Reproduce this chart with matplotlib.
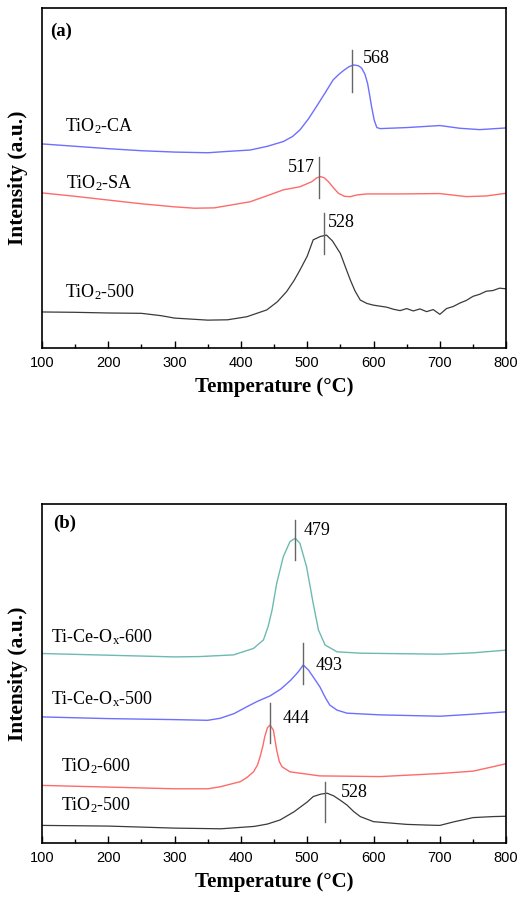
import matplotlib
matplotlib.use('Agg')
import matplotlib.pyplot as plt
from matplotlib.ticker import MultipleLocator

plt.rcParams['mathtext.fontset'] = 'custom'
plt.rcParams['mathtext.rm'] = 'Liberation Serif'
plt.rcParams['mathtext.it'] = 'Liberation Serif:italic'
plt.rcParams['mathtext.bf'] = 'Liberation Serif:bold'

# panel (a)
a_ca_t = [100, 150, 200, 250, 300, 350, 380, 414, 440, 464, 478, 489, 502, 514, 527, 539, 548, 555, 563, 570, 577, 582, 587, 591, 594, 597, 601, 605, 610, 650, 700, 730, 760, 800]
a_ca_i = [60.0, 59.3, 58.6, 58.0, 57.6, 57.4, 57.8, 58.2, 59.3, 60.7, 62.2, 64.1, 67.4, 71.0, 75.0, 78.8, 80.5, 81.6, 82.7, 83.2, 83.0, 82.3, 80.5, 77.8, 74.5, 71.0, 67.0, 64.8, 64.5, 64.8, 65.4, 64.6, 64.2, 64.7]

a_sa_t = [100, 150, 200, 250, 300, 330, 360, 414, 440, 464, 489, 507, 514, 520, 526, 532, 540, 547, 556, 565, 575, 590, 640, 700, 740, 770, 800]
a_sa_i = [45.6, 44.6, 43.5, 42.4, 41.5, 41.1, 41.2, 43.0, 44.8, 46.5, 47.4, 48.9, 50.0, 50.4, 50.0, 48.9, 47.0, 45.5, 44.6, 44.5, 45.0, 45.3, 45.3, 45.4, 44.5, 44.7, 45.5]

a_500_t = [100, 150, 200, 250, 280, 300, 350, 380, 409, 439, 455, 469, 480, 489, 500, 509, 520, 529, 538, 550, 558, 565, 572, 580, 590, 600, 610, 620, 630, 640, 650, 660, 670, 680, 690, 700, 710, 720, 730, 740, 750, 760, 770, 780, 790, 800]
a_500_i = [10.6, 10.5, 10.3, 10.2, 9.5, 8.8, 8.2, 8.3, 9.2, 11.2, 13.6, 16.6, 19.8, 22.9, 27.0, 31.8, 32.8, 33.2, 31.5, 27.8, 23.6, 20.0, 16.8, 14.1, 13.1, 12.6, 12.3, 12.0, 11.4, 11.0, 11.6, 10.9, 11.5, 10.7, 11.3, 9.9, 11.6, 12.2, 13.2, 14.0, 15.2, 15.8, 16.7, 16.9, 17.6, 17.4]

# panel (b)
b_ce600_t = [100, 200, 300, 338, 389, 419, 434, 441, 447, 454, 464, 474, 482, 489, 499, 509, 517, 527, 545, 580, 700, 750, 800]
b_ce600_i = [55.9, 55.4, 54.9, 55.0, 55.5, 57.4, 59.9, 63.8, 68.7, 76.6, 84.5, 88.9, 89.9, 88.4, 81.5, 70.7, 62.8, 58.4, 56.4, 56.0, 55.7, 56.1, 56.9]

b_ce500_t = [100, 200, 300, 350, 369, 390, 409, 425, 444, 460, 475, 487, 494, 502, 509, 519, 527, 534, 545, 560, 610, 700, 750, 800]
b_ce500_i = [37.2, 36.7, 36.4, 36.2, 36.8, 38.2, 40.2, 41.8, 43.4, 45.4, 48.0, 50.6, 52.5, 51.0, 49.0, 46.1, 43.0, 40.7, 39.2, 38.3, 37.8, 37.4, 38.0, 38.7]

b_600_t = [100, 200, 300, 350, 369, 399, 409, 419, 425, 429, 433, 436, 440, 444, 449, 454, 458, 462, 474, 519, 610, 700, 750, 780, 800]
b_600_i = [17.0, 16.5, 16.0, 16.0, 16.6, 18.1, 19.3, 21.0, 23.0, 25.5, 28.5, 31.4, 34.0, 34.8, 33.3, 27.4, 24.0, 22.5, 21.0, 19.8, 19.6, 20.5, 21.2, 22.5, 23.4]

b_500_t = [100, 200, 300, 370, 420, 440, 459, 480, 500, 509, 520, 530, 540, 550, 560, 570, 580, 600, 650, 680, 700, 720, 750, 780, 800]
b_500_i = [5.2, 5.0, 4.4, 4.2, 4.9, 5.6, 6.8, 9.2, 12.1, 13.7, 14.4, 14.7, 13.9, 12.6, 11.2, 9.3, 7.8, 6.3, 5.5, 5.3, 5.2, 6.2, 7.5, 7.8, 7.9]

# peak markers: (temperature, line bottom, line top, label x, label y, label text)
a_peaks = [(568, 75.3, 87.6, 584, 85.0, '568'),
           (518, 44.1, 56.2, 512, 53.2, '517'),
           (525, 27.6, 39.7, 531, 37.0, '528')]
b_peaks = [(481, 83.5, 95.3, 494, 92.3, '479'),
           (494, 47.0, 58.9, 512, 52.5, '493'),
           (444, 29.5, 41.3, 463, 36.7, '444'),
           (527, 6.2, 18.0, 551, 14.8, '528')]

a_names = ['TiO$_2$-CA', 'TiO$_2$-SA', 'TiO$_2$-500']
a_name_pos = [(135, 65.3), (137, 48.5), (135, 16.5)]
b_names = [r'Ti-Ce-O$_\mathrm{x}$-600', r'Ti-Ce-O$_\mathrm{x}$-500', 'TiO$_2$-600', 'TiO$_2$-500']
b_name_pos = [(113, 60.8), (113, 42.4), (129, 22.7), (129, 11.1)]

blue = '#6e6eff'
red = '#ff6a6a'
teal = '#6cbab2'
black = '#3a3a3a'

fig = plt.figure(figsize=(5.24, 9.0), dpi=100)
ax_a = fig.add_axes([0.080, 0.6133, 0.886, 0.378])
ax_b = fig.add_axes([0.080, 0.0633, 0.886, 0.3767])

ax_a.plot(a_ca_t, a_ca_i, color=blue, lw=1)
ax_a.plot(a_sa_t, a_sa_i, color=red, lw=1)
ax_a.plot(a_500_t, a_500_i, color=black, lw=0.9)

ax_b.plot(b_ce600_t, b_ce600_i, color=teal, lw=1)
ax_b.plot(b_ce500_t, b_ce500_i, color=blue, lw=1)
ax_b.plot(b_600_t, b_600_i, color=red, lw=1)
ax_b.plot(b_500_t, b_500_i, color=black, lw=0.9)

serif = 'Liberation Serif'

for ax, peaks, names, pos, tag, tagpos in [
        (ax_a, a_peaks, a_names, a_name_pos, '(a)', (112, 93.2)),
        (ax_b, b_peaks, b_names, b_name_pos, '(b)', (117, 94.3))]:
    for t, y0, y1, lx, ly, txt in peaks:
        ax.plot([t, t], [y0, y1], color='#666666', lw=1)
        ha = 'right' if txt == '517' else 'left'
        ax.text(lx, ly, txt, ha=ha, va='center', fontsize=13, family=serif)
    for name, (x, y) in zip(names, pos):
        ax.text(x, y, name, ha='left', va='center', fontsize=13, family=serif)
    ax.text(tagpos[0], tagpos[1], tag, ha='left', va='center', fontsize=13.5,
            family=serif, fontweight='bold')

    ax.set_xlim(100, 800)
    ax.set_ylim(0, 100)
    ax.set_yticks([])
    ax.xaxis.set_major_locator(MultipleLocator(100))
    ax.xaxis.set_minor_locator(MultipleLocator(50))
    ax.tick_params(axis='x', which='major', direction='in', length=5, width=1,
                   labelsize=10.5, pad=6)
    ax.tick_params(axis='x', which='minor', direction='in', length=3, width=1)
    for lab in ax.get_xticklabels():
        lab.set_family('Liberation Sans')
    for sp in ax.spines.values():
        sp.set_linewidth(1.2)
    ax.set_xlabel('Temperature (°C)', fontsize=15, family=serif,
                  fontweight='bold', labelpad=5)
    ax.set_ylabel('Intensity (a.u.)', fontsize=15.5, family=serif,
                  fontweight='bold', labelpad=10)

fig.savefig('out.png', dpi=100)
